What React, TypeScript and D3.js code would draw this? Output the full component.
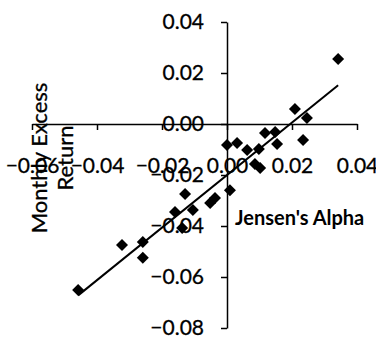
import { useRef, useEffect } from 'react';
import * as d3 from 'd3';

// Jensen's alpha vs monthly excess return
const alpha = [
    0.0342, 0.0209, 0.0246, 0.0234, 0.0117, 0.0148, 0.0154, 0.0098,
    0.0062, 0.0031, 0.0, 0.0086, 0.0102, 0.0009, -0.0037, -0.0052,
    -0.0105, -0.0129, -0.016, -0.0138, -0.0259, -0.0259, -0.0323, -0.0458,
];
const excessReturn = [
    0.0255, 0.0059, 0.0024, -0.0063, -0.0035, -0.0031, -0.0078, -0.0098,
    -0.0102, -0.0075, -0.0082, -0.0157, -0.0173, -0.026, -0.029, -0.031,
    -0.0337, -0.0275, -0.0345, -0.0408, -0.0463, -0.0525, -0.0475, -0.0651,
];
const xTicks = [-0.06, -0.04, -0.02, 0, 0.02, 0.04];
const yTicks = [-0.08, -0.06, -0.04, -0.02, 0, 0.02, 0.04];

const FONT = 'Lato, "Open Sans", sans-serif';

export default function App() {
    const svgRef = useRef<SVGSVGElement>(null);

    useEffect(() => {
        if (!svgRef.current) return;
        const width = 376;
        const height = 337;

        d3.select(svgRef.current).selectAll('*').remove();
        const svg = d3.select(svgRef.current)
            .attr('width', width)
            .attr('height', height);

        const x = d3.scaleLinear().domain([-0.06, 0.04]).range([32, 357]);
        const y = d3.scaleLinear().domain([-0.08, 0.04]).range([328, 22]);
        const fmt = d3.format('.2f');

        // X axis crosses at y = 0
        const xAxis = svg.append('g')
            .attr('transform', `translate(0,${y(0)})`)
            .call(d3.axisBottom(x).tickValues(xTicks).tickFormat(d => fmt(d as number))
                .tickSize(6).tickSizeOuter(0).tickPadding(28));

        // Y axis crosses at x = 0
        const yAxis = svg.append('g')
            .attr('transform', `translate(${x(0)},0)`)
            .call(d3.axisLeft(y).tickValues(yTicks).tickFormat(d => fmt(d as number))
                .tickSize(6).tickSizeOuter(0).tickPadding(17));

        [xAxis, yAxis].forEach(a => {
            a.select('.domain').attr('stroke', '#000').attr('stroke-width', 1.5);
            a.selectAll('.tick line').attr('stroke', '#000').attr('stroke-width', 1.5);
            a.selectAll('.tick text')
                .attr('fill', '#000')
                .attr('stroke', '#000')
                .attr('stroke-width', 0.3)
                .style('font-family', FONT)
                .style('font-size', '21px');
        });

        // Linear trend line (least squares)
        const n = alpha.length;
        const mx = d3.mean(alpha) as number;
        const my = d3.mean(excessReturn) as number;
        let sxy = 0;
        let sxx = 0;
        for (let i = 0; i < n; i++) {
            sxy += (alpha[i] - mx) * (excessReturn[i] - my);
            sxx += (alpha[i] - mx) ** 2;
        }
        const slope = sxy / sxx;
        const intercept = my - slope * mx;
        const [xMin, xMax] = d3.extent(alpha) as [number, number];

        svg.append('line')
            .attr('x1', x(xMin))
            .attr('y1', y(intercept + slope * xMin))
            .attr('x2', x(xMax))
            .attr('y2', y(intercept + slope * xMax))
            .attr('stroke', '#000')
            .attr('stroke-width', 2);

        // Diamond markers
        const diamond = d3.symbol(d3.symbolSquare, 72)();
        svg.append('g')
            .selectAll('path')
            .data(alpha.map((a, i) => [a, excessReturn[i]]))
            .enter()
            .append('path')
            .attr('d', diamond)
            .attr('transform', d => `translate(${x(d[0])},${y(d[1])}) rotate(45)`)
            .attr('fill', '#000');

        // Axis titles
        svg.append('text')
            .attr('x', 235)
            .attr('y', 225)
            .attr('fill', '#000')
            .style('font-family', FONT)
            .style('font-size', '20px')
            .style('font-weight', 'bold')
            .text("Jensen's Alpha");

        const yTitle = svg.append('text')
            .attr('transform', 'translate(0,158) rotate(-90)')
            .attr('text-anchor', 'middle')
            .attr('fill', '#000')
            .attr('stroke', '#000')
            .attr('stroke-width', 0.3)
            .style('font-family', FONT)
            .style('font-size', '22px');
        yTitle.append('tspan').attr('x', 0).attr('y', 47).text('Monthly Excess');
        yTitle.append('tspan').attr('x', 0).attr('y', 73).text('Return');
    }, []);

    return (
        <div style={{ position: 'fixed', left: 0, top: 0, background: '#fff' }}>
            <svg ref={svgRef}></svg>
        </div>
    );
}
